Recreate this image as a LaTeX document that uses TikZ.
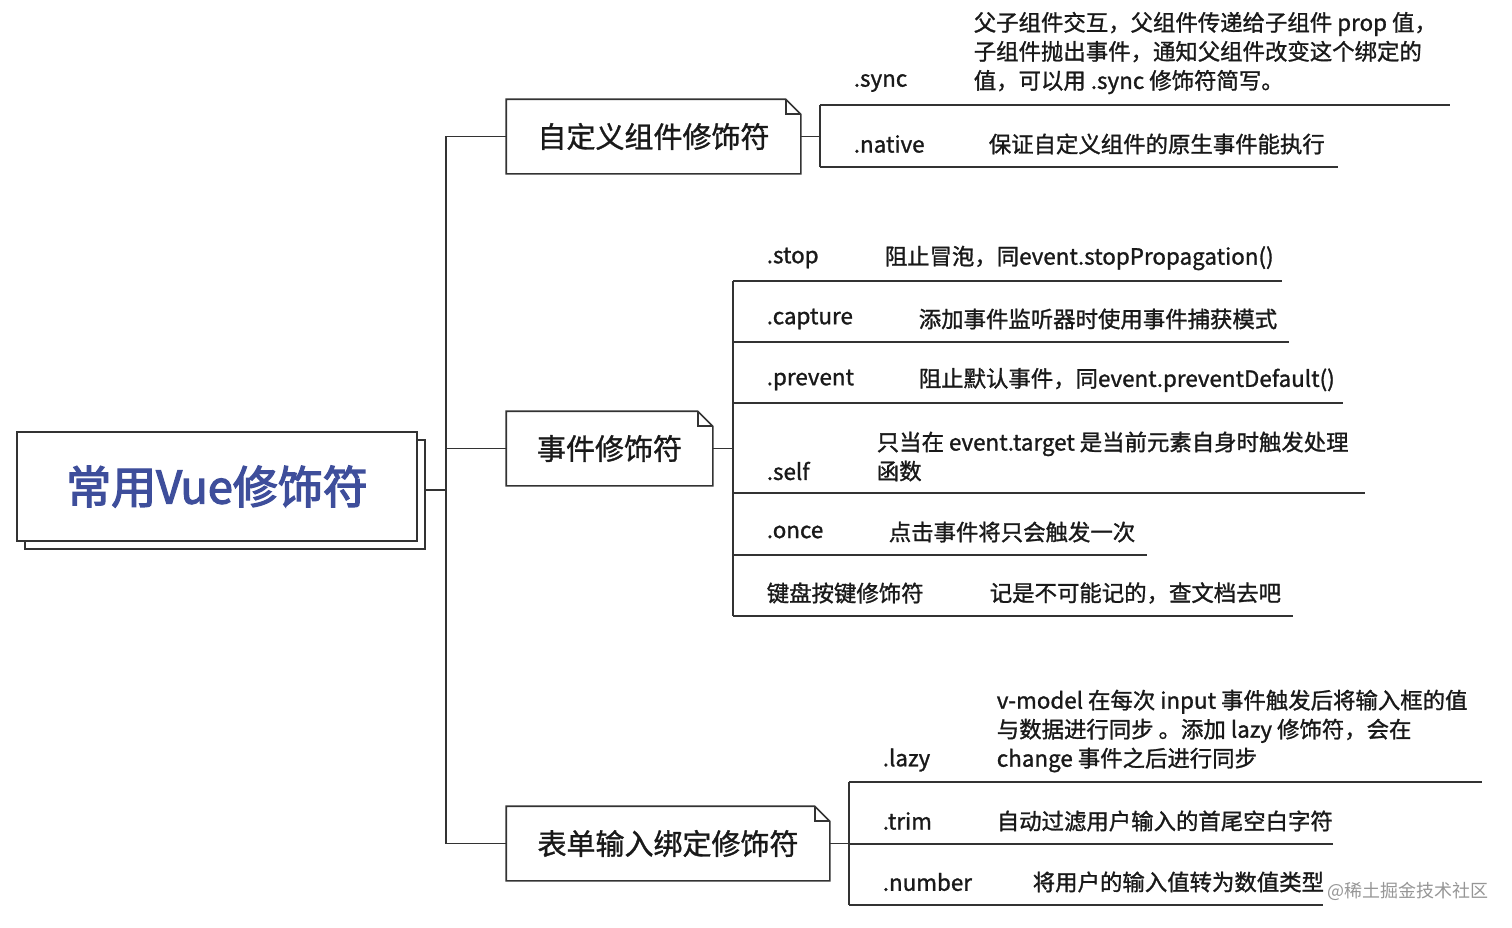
\documentclass[tikz,border=0pt]{standalone}
\usepackage{fontspec}
\setmainfont{Noto Sans CJK SC}
\newfontfamily\med{Noto Sans CJK SC}[FakeBold=1.2]
\newfontfamily\semi{Noto Sans CJK SC}[FakeBold=2.8]
\usetikzlibrary{shadows}
\definecolor{ln}{RGB}{51,51,51}
\definecolor{rootblue}{RGB}{62,78,155}
\definecolor{wm}{RGB}{150,150,150}
\newcommand\foldbox[2]{%
  \draw[ln] (#1.north west) -- ([xshift=-#2pt]#1.north east) -- ([yshift=-#2pt]#1.north east) -- (#1.south east) -- (#1.south west) -- cycle;
  \draw[ln] ([xshift=-#2pt]#1.north east) -- ([xshift=-#2pt,yshift=-#2pt]#1.north east) -- ([yshift=-#2pt]#1.north east);}
\begin{document}
\begin{tikzpicture}[x=1pt,y=-1pt,line width=1.6pt,
  lbl/.style={anchor=west,inner sep=0pt,text=black!90,font=\med\fontsize{22.4}{29}\selectfont},
  desc/.style={anchor=west,inner sep=0pt,align=left,text=black!90,font=\med\fontsize{22.4}{29}\selectfont},
  ttl/.style={inner sep=0pt,text=black!90,font=\med\fontsize{29}{33}\selectfont},
  conn/.style={draw=ln}]
\useasboundingbox (0,0) rectangle (1512,927);
% root
\node[draw=ln,fill=white,minimum width=400pt,minimum height=109pt,inner sep=0pt,
  copy shadow={shadow xshift=8pt,shadow yshift=-8pt},
  font=\semi\fontsize{45}{50}\selectfont,text=rootblue] (root) at (217,486.5) {常用Vue修饰符};
% branch boxes
\node[ttl,minimum width=293pt,minimum height=73pt] (b1) at (653.5,136.5) {自定义组件修饰符};
\foldbox{b1}{15}
\node[ttl,minimum width=205pt,minimum height=73pt] (b2) at (609.5,448.5) {事件修饰符};
\foldbox{b2}{15}
\node[ttl,minimum width=322pt,minimum height=73pt] (b3) at (668,843.5) {表单输入绑定修饰符};
\foldbox{b3}{15}
% trunk
\coordinate (jt) at (446,490);
\draw[conn] (b1.west) -| (jt) |- (b3.west);
\draw[conn] (b2.west) -- (b2.west -| jt);
\draw[conn] ([xshift=8pt]root.east |- jt) -- (jt);
% ---------- branch 1
\coordinate (a1) at (820,105); \coordinate (a1e) at (1450,105);
\coordinate (a2) at (820,167); \coordinate (a2e) at (1338,167);
\draw[conn] (b1.east) -- (b1.east -| a1);
\draw[conn] (a1) -- (a2);
\draw[conn] (a1) -- (a1e);
\draw[conn] (a2) -- (a2e);
\node[lbl] (sync) at (853,83) {.sync};
\node[desc] (syncd) at (973,53) {父子组件交互，父组件传递给子组件 prop 值，\\子组件抛出事件，通知父组件改变这个绑定的\\值，可以用 .sync 修饰符简写。};
\node[lbl] (native) at (853,144) {.native};
\node[desc] (natived) at (988,144) {保证自定义组件的原生事件能执行};
% ---------- branch 2
\coordinate (c1) at (733,281); \coordinate (c1e) at (1282,281);
\coordinate (c2) at (733,342); \coordinate (c2e) at (1289,342);
\coordinate (c3) at (733,403); \coordinate (c3e) at (1343,403);
\coordinate (c4) at (733,493); \coordinate (c4e) at (1365,493);
\coordinate (c5) at (733,555); \coordinate (c5e) at (1147,555);
\coordinate (c6) at (733,616); \coordinate (c6e) at (1293,616);
\draw[conn] (b2.east) -- (b2.east -| c1);
\draw[conn] (c1) -- (c6);
\foreach \i in {1,...,6} {\draw[conn] (c\i) -- (c\i e);}
\node[lbl] (stop) at (766,258) {.stop};
\node[desc] (stopd) at (884,258) {阻止冒泡，同event.stopPropagation()};
\node[lbl] (capture) at (766,319) {.capture};
\node[desc] (captured) at (918,319) {添加事件监听器时使用事件捕获模式};
\node[lbl] (prevent) at (766,380) {.prevent};
\node[desc] (preventd) at (918,380) {阻止默认事件，同event.preventDefault()};
\node[lbl] (self) at (766,471) {.self};
\node[desc] (selfd) at (876,456.5) {只当在 event.target 是当前元素自身时触发处理\\函数};
\node[lbl] (once) at (766,532) {.once};
\node[desc] (onced) at (888,532) {点击事件将只会触发一次};
\node[lbl] (key) at (766,593) {键盘按键修饰符};
\node[desc] (keyd) at (989,593) {记是不可能记的，查文档去吧};
% ---------- branch 3
\coordinate (d1) at (849,782); \coordinate (d1e) at (1482,782);
\coordinate (d2) at (849,844); \coordinate (d2e) at (1333,844);
\coordinate (d3) at (849,905); \coordinate (d3e) at (1323,905);
\draw[conn] (b3.east) -- (b3.east -| d1);
\draw[conn] (d1) -- (d3);
\foreach \i in {1,2,3} {\draw[conn] (d\i) -- (d\i e);}
\node[lbl] (lazy) at (882,760) {.lazy};
\node[desc] (lazyd) at (996,731) {v-model 在每次 input 事件触发后将输入框的值\\与数据进行同步 。添加 lazy 修饰符，会在\\change 事件之后进行同步};
\node[lbl] (trim) at (882,821) {.trim};
\node[desc] (trimd) at (996,821) {自动过滤用户输入的首尾空白字符};
\node[lbl] (number) at (882,882) {.number};
\node[desc] (numberd) at (1032,882) {将用户的输入值转为数值类型};
% watermark
\node[anchor=west,inner sep=0pt,text=wm,font=\fontsize{18}{20}\selectfont] (wmk) at (1327,891) {@稀土掘金技术社区};
\end{tikzpicture}
\end{document}
